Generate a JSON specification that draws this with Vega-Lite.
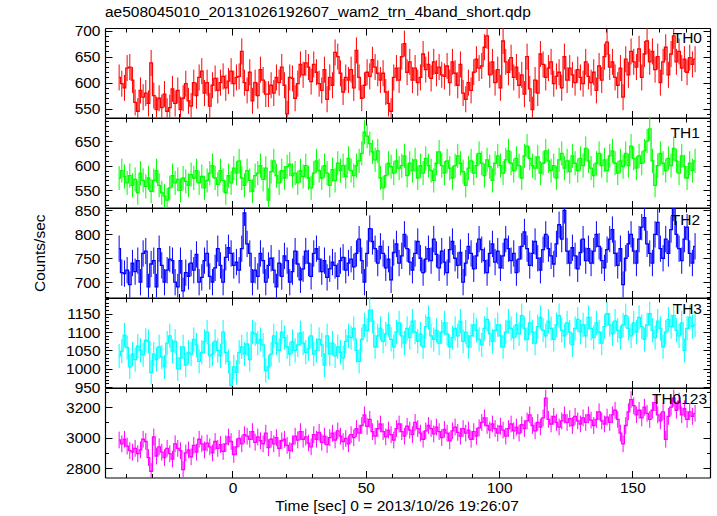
{
"$schema":"https://vega.github.io/schema/vega-lite/v6.json",
"padding":{"left":32,"top":5,"right":6,"bottom":4},
"background":"white",
"title":{"text":"ae508045010_20131026192607_wam2_trn_4band_short.qdp","anchor":"start","frame":"group","offset":3,"fontSize":15.5,"fontWeight":"normal","font":"Liberation Sans","color":"#000"},
"data":{"values":"t,TH0,TH1,TH2,TH3,TH0123\n-42.5,610,575,770,1035,2985\n-41.5,598,590,720,1048,2960\n-40.5,590,578,718,1092,2990\n-39.5,628,565,725,1058,2945\n-38.5,630,580,695,1005,2915\n-37.5,605,560,740,1040,2905\n-36.5,562,572,722,1025,2930\n-35.5,545,545,745,1062,2895\n-34.5,585,585,700,1050,2920\n-33.5,572,570,760,1038,2990\n-32.5,580,558,765,1078,2975\n-31.5,560,575,690,1075,2870\n-30.5,638,548,738,990,2780\n-29.5,575,570,745,1040,3005\n-28.5,548,590,690,1025,2880\n-27.5,570,560,770,1060,2940\n-26.5,552,545,735,1032,2905\n-25.5,578,538,700,1005,2870\n-24.5,545,530,725,1070,2930\n-23.5,552,555,748,1090,2895\n-22.5,588,580,745,1048,2860\n-21.5,560,565,700,1075,2960\n-20.5,585,572,690,1000,2930\n-19.5,548,550,745,1030,2915\n-18.5,570,575,682,1060,2790\n-17.5,598,568,720,1010,2900\n-16.5,565,560,712,1045,2920\n-15.5,555,582,740,1040,2875\n-14.5,600,575,725,1080,2950\n-13.5,575,590,758,1065,2905\n-12.5,610,565,700,1020,2990\n-11.5,622,578,710,1045,2960\n-10.5,580,555,745,1075,2920\n-9.5,600,570,760,1100,2965\n-8.5,555,585,712,1035,2940\n-7.5,595,600,700,1040,2900\n-6.5,608,575,730,1075,2975\n-5.5,585,562,770,1050,2930\n-4.5,600,590,735,1035,2955\n-3.5,612,570,700,1100,2910\n-2.5,590,545,752,1045,2960\n-1.5,603,580,772,1020,3005\n-0.5,622,565,760,955,2975\n0.5,598,595,735,1005,2890\n1.5,610,585,742,990,2940\n2.5,612,610,725,1045,2995\n3.5,660,575,770,1060,2960\n4.5,600,560,845,1040,3020\n5.5,585,590,780,1068,3010\n6.5,620,570,760,1025,2990\n7.5,565,548,700,1100,3040\n8.5,600,580,725,1095,2970\n9.5,575,585,712,1070,3005\n10.5,625,600,760,1080,2980\n11.5,605,572,745,1065,2960\n12.5,578,595,700,995,3030\n13.5,578,530,735,1005,2935\n14.5,595,588,750,1040,2990\n15.5,580,610,725,1090,2960\n16.5,610,580,690,1070,3000\n17.5,600,565,740,1050,2930\n18.5,630,590,712,1100,2980\n19.5,595,575,755,1085,2990\n20.5,540,598,745,1060,2950\n21.5,610,603,700,1040,2915\n22.5,608,580,722,1075,2960\n23.5,570,585,765,1050,3010\n24.5,598,565,738,1065,2985\n25.5,635,590,705,1098,3040\n26.5,615,578,728,1070,2990\n27.5,638,600,765,1045,3005\n28.5,630,575,740,1055,2965\n29.5,602,555,712,1090,2940\n30.5,635,585,760,1040,3020\n31.5,620,610,770,1050,2990\n32.5,598,590,748,1080,3035\n33.5,585,575,722,1065,2970\n34.5,625,600,745,1010,3010\n35.5,568,585,710,1090,2955\n36.5,610,560,728,1040,3000\n37.5,595,592,742,1070,3030\n38.5,658,570,735,1035,2985\n39.5,650,605,712,1060,3045\n40.5,618,590,745,1045,3010\n41.5,582,600,752,1030,2975\n42.5,610,578,725,1075,2995\n43.5,605,615,740,1090,2960\n44.5,625,590,748,1085,3020\n45.5,590,580,732,1110,3000\n46.5,662,600,760,1050,3060\n47.5,610,610,790,1020,3030\n48.5,570,625,745,1080,3080\n49.5,595,668,700,1120,3150\n50.5,620,660,760,1105,3075\n51.5,612,645,812,1160,3120\n52.5,644,628,785,1130,3040\n53.5,630,612,770,1060,3010\n54.5,618,630,740,1090,3060\n55.5,605,575,775,1110,3090\n56.5,618,555,760,1075,3040\n57.5,582,580,730,1095,3005\n58.5,560,605,748,1120,3050\n59.5,545,598,705,1080,3020\n60.5,610,585,762,1060,2985\n61.5,628,610,780,1100,3060\n62.5,605,595,740,1125,3090\n63.5,650,600,755,1090,3040\n64.5,675,620,800,1070,3010\n65.5,620,580,770,1110,3075\n66.5,640,605,742,1085,3050\n67.5,605,590,725,1130,3020\n68.5,628,612,760,1100,3100\n69.5,600,575,785,1075,3060\n70.5,610,600,750,1095,3030\n71.5,655,585,720,1060,2990\n72.5,625,615,748,1115,3045\n73.5,635,600,770,1140,3080\n74.5,608,590,745,1090,3060\n75.5,640,570,790,1080,3025\n76.5,618,605,758,1105,3070\n77.5,630,628,730,1070,3040\n78.5,615,600,765,1100,3000\n79.5,612,585,742,1125,3055\n80.5,632,610,720,1095,3030\n81.5,600,595,768,1060,2980\n82.5,640,575,785,1085,3045\n83.5,618,600,750,1110,3070\n84.5,595,620,735,1090,3035\n85.5,635,605,762,1130,3010\n86.5,580,588,700,1075,3060\n87.5,568,560,740,1100,3030\n88.5,600,595,775,1060,3050\n89.5,585,610,760,1090,2990\n90.5,620,585,728,1120,3040\n91.5,645,600,755,1105,3010\n92.5,628,625,790,1080,3065\n93.5,632,605,768,1065,3100\n94.5,668,580,745,1110,3130\n95.5,690,612,720,1135,3080\n96.5,615,598,760,1095,3050\n97.5,640,570,780,1075,3090\n98.5,600,605,742,1105,3060\n99.5,625,620,765,1120,3030\n100.5,590,600,730,1090,3075\n101.5,680,585,755,1060,3050\n102.5,640,612,790,1100,3010\n103.5,620,630,770,1130,3060\n104.5,648,605,745,1110,3090\n105.5,610,590,760,1085,3045\n106.5,630,615,720,1120,3070\n107.5,595,600,748,1095,3030\n108.5,615,575,775,1145,3085\n109.5,578,620,805,1110,3060\n110.5,650,640,770,1080,3110\n111.5,588,615,735,1125,3150\n112.5,548,600,760,1100,3080\n113.5,605,595,785,1070,3045\n114.5,580,618,750,1115,3100\n115.5,655,585,725,1140,3070\n116.5,635,605,768,1105,3130\n117.5,610,630,800,1090,3260\n118.5,628,610,770,1130,3120\n119.5,640,590,755,1110,3090\n120.5,598,600,738,1080,3140\n121.5,612,575,780,1120,3100\n122.5,620,612,820,1145,3070\n123.5,590,625,790,1105,3110\n124.5,650,595,850,1090,3150\n125.5,605,610,765,1125,3100\n126.5,628,588,740,1100,3125\n127.5,615,620,772,1065,3080\n128.5,600,605,755,1110,3140\n129.5,625,590,728,1135,3110\n130.5,610,615,762,1100,3090\n131.5,598,600,790,1120,3130\n132.5,640,635,745,1090,3100\n133.5,612,610,770,1140,3150\n134.5,600,595,740,1110,3115\n135.5,620,580,765,1085,3080\n136.5,585,605,800,1125,3120\n137.5,632,625,775,1100,3170\n138.5,605,600,745,1070,3110\n139.5,650,612,730,1115,3090\n140.5,678,590,768,1150,3135\n141.5,630,620,790,1120,3100\n142.5,640,630,810,1095,3150\n143.5,610,605,760,1130,3180\n144.5,595,585,735,1105,3120\n145.5,628,610,770,1085,3030\n146.5,572,598,695,1120,2960\n147.5,645,625,750,1145,3080\n148.5,615,600,780,1110,3170\n149.5,660,640,800,1090,3250\n150.5,640,615,765,1125,3210\n151.5,630,595,740,1100,3150\n152.5,665,620,790,1140,3180\n153.5,610,605,815,1115,3130\n154.5,655,630,835,1080,3200\n155.5,680,650,780,1120,3160\n156.5,640,675,760,1150,3120\n157.5,660,610,740,1105,3180\n158.5,625,560,800,1085,3230\n159.5,650,600,825,1130,3150\n160.5,600,625,770,1110,3110\n161.5,640,605,750,1060,3170\n162.5,668,590,790,1100,2990\n163.5,615,615,760,1135,3140\n164.5,655,600,810,1115,3200\n165.5,690,635,855,1145,3260\n166.5,640,610,800,1105,3180\n167.5,660,585,770,1090,3240\n168.5,628,620,745,1125,3150\n169.5,645,598,790,1050,3190\n170.5,620,575,815,1110,3120\n171.5,648,605,760,1140,3170\n172.5,635,590,740,1115,3140\n173.5,645,610,775,1120,3160","format":{"type":"csv","parse":{"t":"number","TH0":"number","TH1":"number","TH2":"number","TH3":"number","TH0123":"number"}}},
"transform":[
{"fold":["TH0","TH1","TH2","TH3","TH0123"],"as":["band","rate"]},
{"lookup":"band","from":{"data":{"values":[{"band":"TH0","err":25},{"band":"TH1","err":24.5},{"band":"TH2","err":27.5},{"band":"TH3","err":33},{"band":"TH0123","err":55}]},"key":"band","fields":["err"]}}
],
"spacing":0,
"bounds":"flush",
"config":{"font":"Liberation Sans","view":{"stroke":null},"axis":{"labelFont":"Liberation Sans","labelFontSize":15.5,"labelColor":"#000","titleFont":"Liberation Sans","titleFontSize":15.5,"titleFontWeight":"normal","titleColor":"#000","domainColor":"#000","domainWidth":1.2,"tickColor":"#000","tickWidth":1,"grid":false,"format":"d"}},
"vconcat":[
{"width":605,"height":89.5,"transform":[{"filter":{"field":"band","equal":"TH0"}}],
"layer":[
{"mark":{"type":"line","interpolate":"step","color":"#ff0000","strokeWidth":1.3,"clip":true},
"encoding":{"x":{"field":"t","type":"quantitative","scale":{"domain":[-47.8,179.1],"nice":false,"zero":false},"axis":{"orient":"bottom","values":[-40,-30,-20,-10,0,10,20,30,40,50,60,70,80,90,100,110,120,130,140,150,160,170],"labels":false,"title":null,"tickSize":{"condition":{"test":"datum.value % 50 === 0","value":-7},"value":-4}}},
"y":{"field":"rate","type":"quantitative","scale":{"domain":[533,705],"nice":false,"zero":false},"axis":{"orient":"left","format":"d","values":[540,550,560,570,580,590,600,610,620,630,640,650,660,670,680,690,700],"labelExpr":"datum.value % 50 === 0 ? datum.label : ''","labelPadding":12,"labelOverlap":false,"labelFlush":false,"title":null,"tickSize":{"condition":{"test":"datum.value % 50 === 0","value":-7},"value":-3.5}}}}},
{"mark":{"type":"errorbar","color":"#ff0000","thickness":1,"clip":true},
"encoding":{"x":{"field":"t","type":"quantitative","scale":{"domain":[-47.8,179.1],"nice":false,"zero":false},"axis":null},"y":{"field":"rate","type":"quantitative","scale":{"domain":[533,705],"nice":false,"zero":false},"axis":null},"yError":{"field":"err"}}},
{"transform":[{"aggregate":[{"op":"count","as":"n"}],"groupby":["band"]}],
"mark":{"type":"text","align":"right","baseline":"alphabetic","fontSize":15.5,"font":"Liberation Sans","color":"#000"},
"encoding":{"x":{"datum":176.1,"type":"quantitative","scale":{"domain":[-47.8,179.1],"nice":false,"zero":false},"axis":{"orient":"top","values":[-40,-30,-20,-10,0,10,20,30,40,50,60,70,80,90,100,110,120,130,140,150,160,170],"labels":false,"title":null,"tickSize":{"condition":{"test":"datum.value % 50 === 0","value":-7},"value":-4}}},
"y":{"datum":676.7,"type":"quantitative","scale":{"domain":[533,705],"nice":false,"zero":false},"axis":{"orient":"right","values":[540,550,560,570,580,590,600,610,620,630,640,650,660,670,680,690,700],"labels":false,"title":null,"tickSize":{"condition":{"test":"datum.value % 50 === 0","value":-7},"value":-3.5}}},
"text":{"field":"band"}}}
],
"resolve":{"axis":{"x":"independent","y":"independent"}}},
{"width":605,"height":89.5,"transform":[{"filter":{"field":"band","equal":"TH1"}}],
"layer":[
{"mark":{"type":"line","interpolate":"step","color":"#00ff00","strokeWidth":1.3,"clip":true},
"encoding":{"x":{"field":"t","type":"quantitative","scale":{"domain":[-47.8,179.1],"nice":false,"zero":false},"axis":{"orient":"bottom","values":[-40,-30,-20,-10,0,10,20,30,40,50,60,70,80,90,100,110,120,130,140,150,160,170],"labels":false,"title":null,"tickSize":{"condition":{"test":"datum.value % 50 === 0","value":-7},"value":-4}}},
"y":{"field":"rate","type":"quantitative","scale":{"domain":[515,697],"nice":false,"zero":false},"axis":{"orient":"left","format":"d","values":[520,530,540,550,560,570,580,590,600,610,620,630,640,650,660,670,680,690],"labelExpr":"datum.value % 50 === 0 ? datum.label : ''","labelPadding":12,"labelOverlap":false,"labelFlush":false,"title":null,"tickSize":{"condition":{"test":"datum.value % 50 === 0","value":-7},"value":-3.5}}}}},
{"mark":{"type":"errorbar","color":"#00ff00","thickness":1,"clip":true},
"encoding":{"x":{"field":"t","type":"quantitative","scale":{"domain":[-47.8,179.1],"nice":false,"zero":false},"axis":null},"y":{"field":"rate","type":"quantitative","scale":{"domain":[515,697],"nice":false,"zero":false},"axis":null},"yError":{"field":"err"}}},
{"transform":[{"aggregate":[{"op":"count","as":"n"}],"groupby":["band"]}],
"mark":{"type":"text","align":"right","baseline":"alphabetic","fontSize":15.5,"font":"Liberation Sans","color":"#000"},
"encoding":{"x":{"datum":175.3,"type":"quantitative","scale":{"domain":[-47.8,179.1],"nice":false,"zero":false},"axis":{"orient":"top","values":[-40,-30,-20,-10,0,10,20,30,40,50,60,70,80,90,100,110,120,130,140,150,160,170],"labels":false,"title":null,"tickSize":{"condition":{"test":"datum.value % 50 === 0","value":-7},"value":-4}}},
"y":{"datum":655.5,"type":"quantitative","scale":{"domain":[515,697],"nice":false,"zero":false},"axis":{"orient":"right","values":[520,530,540,550,560,570,580,590,600,610,620,630,640,650,660,670,680,690],"labels":false,"title":null,"tickSize":{"condition":{"test":"datum.value % 50 === 0","value":-7},"value":-3.5}}},
"text":{"field":"band"}}}
],
"resolve":{"axis":{"x":"independent","y":"independent"}}},
{"width":605,"height":89.5,"transform":[{"filter":{"field":"band","equal":"TH2"}}],
"layer":[
{"mark":{"type":"line","interpolate":"step","color":"#0000ff","strokeWidth":1.3,"clip":true},
"encoding":{"x":{"field":"t","type":"quantitative","scale":{"domain":[-47.8,179.1],"nice":false,"zero":false},"axis":{"orient":"bottom","values":[-40,-30,-20,-10,0,10,20,30,40,50,60,70,80,90,100,110,120,130,140,150,160,170],"labels":false,"title":null,"tickSize":{"condition":{"test":"datum.value % 50 === 0","value":-7},"value":-4}}},
"y":{"field":"rate","type":"quantitative","scale":{"domain":[668,855],"nice":false,"zero":false},"axis":{"orient":"left","format":"d","values":[670,680,690,700,710,720,730,740,750,760,770,780,790,800,810,820,830,840,850],"labelExpr":"datum.value % 50 === 0 ? datum.label : ''","labelPadding":12,"labelOverlap":false,"labelFlush":false,"title":"Counts/sec","titleX":-58,"tickSize":{"condition":{"test":"datum.value % 50 === 0","value":-7},"value":-3.5}}}}},
{"mark":{"type":"errorbar","color":"#0000ff","thickness":1,"clip":true},
"encoding":{"x":{"field":"t","type":"quantitative","scale":{"domain":[-47.8,179.1],"nice":false,"zero":false},"axis":null},"y":{"field":"rate","type":"quantitative","scale":{"domain":[668,855],"nice":false,"zero":false},"axis":null},"yError":{"field":"err"}}},
{"transform":[{"aggregate":[{"op":"count","as":"n"}],"groupby":["band"]}],
"mark":{"type":"text","align":"right","baseline":"alphabetic","fontSize":15.5,"font":"Liberation Sans","color":"#000"},
"encoding":{"x":{"datum":175.4,"type":"quantitative","scale":{"domain":[-47.8,179.1],"nice":false,"zero":false},"axis":{"orient":"top","values":[-40,-30,-20,-10,0,10,20,30,40,50,60,70,80,90,100,110,120,130,140,150,160,170],"labels":false,"title":null,"tickSize":{"condition":{"test":"datum.value % 50 === 0","value":-7},"value":-4}}},
"y":{"datum":820,"type":"quantitative","scale":{"domain":[668,855],"nice":false,"zero":false},"axis":{"orient":"right","values":[670,680,690,700,710,720,730,740,750,760,770,780,790,800,810,820,830,840,850],"labels":false,"title":null,"tickSize":{"condition":{"test":"datum.value % 50 === 0","value":-7},"value":-3.5}}},
"text":{"field":"band"}}}
],
"resolve":{"axis":{"x":"independent","y":"independent"}}},
{"width":605,"height":89.5,"transform":[{"filter":{"field":"band","equal":"TH3"}}],
"layer":[
{"mark":{"type":"line","interpolate":"step","color":"#00ffff","strokeWidth":1.3,"clip":true},
"encoding":{"x":{"field":"t","type":"quantitative","scale":{"domain":[-47.8,179.1],"nice":false,"zero":false},"axis":{"orient":"bottom","values":[-40,-30,-20,-10,0,10,20,30,40,50,60,70,80,90,100,110,120,130,140,150,160,170],"labels":false,"title":null,"tickSize":{"condition":{"test":"datum.value % 50 === 0","value":-7},"value":-4}}},
"y":{"field":"rate","type":"quantitative","scale":{"domain":[949,1193],"nice":false,"zero":false},"axis":{"orient":"left","format":"d","values":[950,960,970,980,990,1000,1010,1020,1030,1040,1050,1060,1070,1080,1090,1100,1110,1120,1130,1140,1150,1160,1170,1180,1190],"labelExpr":"datum.value % 50 === 0 ? datum.label : ''","labelPadding":12,"labelOverlap":false,"labelFlush":false,"title":null,"tickSize":{"condition":{"test":"datum.value % 50 === 0","value":-7},"value":-3.5}}}}},
{"mark":{"type":"errorbar","color":"#00ffff","thickness":1,"clip":true},
"encoding":{"x":{"field":"t","type":"quantitative","scale":{"domain":[-47.8,179.1],"nice":false,"zero":false},"axis":null},"y":{"field":"rate","type":"quantitative","scale":{"domain":[949,1193],"nice":false,"zero":false},"axis":null},"yError":{"field":"err"}}},
{"transform":[{"aggregate":[{"op":"count","as":"n"}],"groupby":["band"]}],
"mark":{"type":"text","align":"right","baseline":"alphabetic","fontSize":15.5,"font":"Liberation Sans","color":"#000"},
"encoding":{"x":{"datum":176.1,"type":"quantitative","scale":{"domain":[-47.8,179.1],"nice":false,"zero":false},"axis":{"orient":"top","values":[-40,-30,-20,-10,0,10,20,30,40,50,60,70,80,90,100,110,120,130,140,150,160,170],"labels":false,"title":null,"tickSize":{"condition":{"test":"datum.value % 50 === 0","value":-7},"value":-4}}},
"y":{"datum":1149,"type":"quantitative","scale":{"domain":[949,1193],"nice":false,"zero":false},"axis":{"orient":"right","values":[950,960,970,980,990,1000,1010,1020,1030,1040,1050,1060,1070,1080,1090,1100,1110,1120,1130,1140,1150,1160,1170,1180,1190],"labels":false,"title":null,"tickSize":{"condition":{"test":"datum.value % 50 === 0","value":-7},"value":-3.5}}},
"text":{"field":"band"}}}
],
"resolve":{"axis":{"x":"independent","y":"independent"}}},
{"width":605,"height":89.5,"transform":[{"filter":{"field":"band","equal":"TH0123"}}],
"layer":[
{"mark":{"type":"line","interpolate":"step","color":"#ff00ff","strokeWidth":1.3,"clip":true},
"encoding":{"x":{"field":"t","type":"quantitative","scale":{"domain":[-47.8,179.1],"nice":false,"zero":false},"axis":{"orient":"bottom","values":[-40,-30,-20,-10,0,10,20,30,40,50,60,70,80,90,100,110,120,130,140,150,160,170],"labelExpr":"datum.value % 50 === 0 ? datum.label : ''","labelPadding":10,"labelOverlap":false,"labelFlush":false,"title":"Time [sec] 0 = 2013/10/26 19:26:07","titleX":291.5,"titlePadding":-1,"tickSize":{"condition":{"test":"datum.value % 50 === 0","value":-7},"value":-4}}},
"y":{"field":"rate","type":"quantitative","scale":{"domain":[2739,3326],"nice":false,"zero":false},"axis":{"orient":"left","format":"d","values":[2800,2900,3000,3100,3200,3300],"labelExpr":"datum.value % 200 === 0 ? datum.label : ''","labelPadding":12,"labelOverlap":false,"labelFlush":false,"title":null,"tickSize":{"condition":{"test":"datum.value % 200 === 0","value":-7},"value":-3.5}}}}},
{"mark":{"type":"errorbar","color":"#ff00ff","thickness":1,"clip":true},
"encoding":{"x":{"field":"t","type":"quantitative","scale":{"domain":[-47.8,179.1],"nice":false,"zero":false},"axis":null},"y":{"field":"rate","type":"quantitative","scale":{"domain":[2739,3326],"nice":false,"zero":false},"axis":null},"yError":{"field":"err"}}},
{"transform":[{"aggregate":[{"op":"count","as":"n"}],"groupby":["band"]}],
"mark":{"type":"text","align":"right","baseline":"alphabetic","fontSize":15.5,"font":"Liberation Sans","color":"#000"},
"encoding":{"x":{"datum":178,"type":"quantitative","scale":{"domain":[-47.8,179.1],"nice":false,"zero":false},"axis":{"orient":"top","values":[-40,-30,-20,-10,0,10,20,30,40,50,60,70,80,90,100,110,120,130,140,150,160,170],"labels":false,"title":null,"tickSize":{"condition":{"test":"datum.value % 50 === 0","value":-7},"value":-4}}},
"y":{"datum":3220,"type":"quantitative","scale":{"domain":[2739,3326],"nice":false,"zero":false},"axis":{"orient":"right","values":[2800,2900,3000,3100,3200,3300],"labels":false,"title":null,"tickSize":{"condition":{"test":"datum.value % 200 === 0","value":-7},"value":-3.5}}},
"text":{"field":"band"}}}
],
"resolve":{"axis":{"x":"independent","y":"independent"}}}
]
}
